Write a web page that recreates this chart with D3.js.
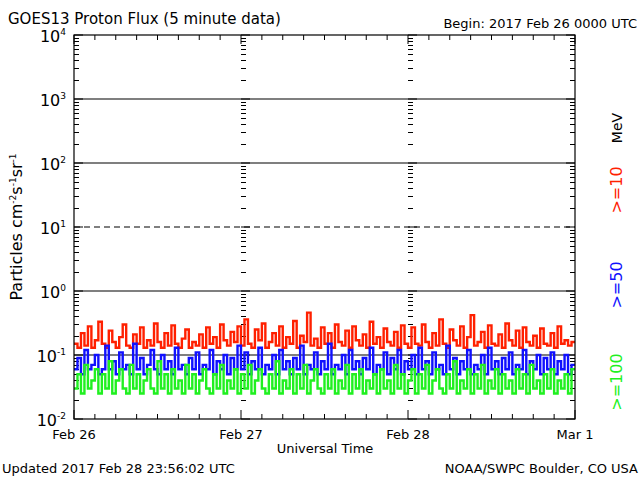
<!DOCTYPE html>
<html><head><meta charset="utf-8">
<script src="https://cdn.jsdelivr.net/npm/d3@7"></script>
<style>body{margin:0;background:#fff}text{font-family:"DejaVu Sans",sans-serif}</style>
</head><body>
<script>
// 30-minute samples, Feb 26 00:00 -> Mar 1 00:00
var p10 = [.15,.13,.22,.14,.28,.13,.17,.33,.15,.13,.24,.16,.13,.19,.30,.14,.13,.21,.15,.27,.13,.17,.14,.31,.16,.13,.22,.14,.29,.15,.13,.18,.25,.13,.16,.14,.21,.13,.27,.15,.19,.13,.30,.17,.14,.23,.16,.28,
  .14,.36,.15,.13,.25,.17,.31,.13,.16,.22,.14,.28,.13,.19,.15,.34,.13,.20,.16,.46,.14,.18,.13,.27,.15,.22,.13,.30,.16,.14,.24,.13,.28,.17,.14,.21,.13,.33,.15,.19,.13,.26,.16,.14,.23,.13,.29,.15,
  .13,.27,.15,.14,.30,.16,.13,.22,.14,.36,.15,.13,.25,.17,.14,.28,.13,.19,.42,.14,.16,.23,.13,.29,.15,.14,.21,.13,.31,.17,.14,.24,.13,.27,.16,.14,.20,.13,.26,.15,.14,.22,.13,.28,.15,.17,.14,.16];
var p50 = [.06,.09,.05,.12,.06,.07,.10,.05,.06,.14,.06,.08,.05,.11,.06,.07,.05,.15,.06,.09,.05,.07,.12,.06,.05,.10,.06,.08,.05,.13,.06,.07,.05,.09,.06,.11,.05,.07,.06,.12,.05,.08,.06,.10,.05,.09,.06,.14,
  .06,.11,.05,.08,.06,.13,.05,.07,.06,.10,.05,.12,.06,.08,.05,.09,.06,.14,.05,.07,.06,.11,.05,.08,.06,.15,.05,.07,.06,.10,.05,.12,.06,.08,.05,.09,.06,.13,.05,.07,.06,.11,.05,.09,.06,.12,.05,.08,
  .06,.10,.05,.13,.06,.08,.05,.11,.06,.07,.05,.14,.06,.09,.05,.08,.06,.12,.05,.07,.06,.10,.05,.13,.06,.08,.05,.09,.06,.11,.05,.07,.06,.12,.05,.08,.06,.10,.05,.09,.06,.11,.05,.08,.06,.10,.05,.07];
var p100 = [.03,.05,.025,.07,.03,.04,.06,.025,.05,.03,.08,.025,.04,.06,.03,.025,.07,.03,.05,.025,.04,.06,.03,.025,.08,.03,.05,.025,.06,.03,.04,.025,.07,.03,.05,.025,.04,.06,.03,.025,.05,.03,.07,.025,.04,.03,.06,.025,
  .05,.03,.07,.025,.04,.06,.03,.025,.05,.03,.08,.025,.04,.03,.06,.025,.05,.03,.07,.025,.04,.06,.03,.025,.05,.03,.06,.025,.04,.03,.07,.025,.05,.03,.06,.025,.04,.03,.05,.025,.06,.03,.04,.025,.07,.03,.05,.025,
  .04,.06,.025,.05,.03,.07,.025,.04,.06,.03,.025,.05,.03,.08,.025,.04,.03,.06,.025,.05,.03,.07,.025,.04,.03,.06,.025,.05,.03,.04,.025,.06,.03,.05,.025,.07,.03,.04,.025,.05,.03,.06,.025,.04,.03,.05,.025,.06];
var dayLabels = ["Feb 26", "Feb 27", "Feb 28", "Mar 1"];
var decades = [-2, -1, 0, 1, 2, 3, 4];

var W = 640, H = 480, L = 74, R = 575, T = 35, B = 419;
var svg = d3.select("body").append("svg").attr("width", W).attr("height", H);

var x = d3.scaleLinear().domain([0, 72]).range([L, R]);   // hours
var y = d3.scaleLog().domain([1e-2, 1e4]).range([B, T]);

// reference lines
svg.selectAll("line.ref").data([3, 2, 1, 0, -1]).enter().append("line")
  .attr("x1", L).attr("x2", R)
  .attr("y1", d => y(Math.pow(10, d))).attr("y2", d => y(Math.pow(10, d)))
  .attr("stroke", "#000").attr("stroke-width", 1.2)
  .attr("stroke-dasharray", d => d == 1 ? "6,4" : null);

// log ticks on left, right and at day boundaries
var minor = [];
decades.slice(0, -1).forEach(function(e) {
  for (var k = 2; k < 10; k++) minor.push(k * Math.pow(10, e));
});
var g = svg.append("g").attr("stroke", "#000");
[[L, 1], [x(24), 1], [x(48), 1], [R, -1]].forEach(function(c) {
  g.selectAll(null).data(minor).enter().append("line")
    .attr("x1", c[0]).attr("x2", c[0] + c[1] * 5)
    .attr("y1", d => Math.round(y(d)) + 0.5).attr("y2", d => Math.round(y(d)) + 0.5);
  g.selectAll(null).data(decades).enter().append("line")
    .attr("x1", c[0]).attr("x2", c[0] + c[1] * 9)
    .attr("y1", d => y(Math.pow(10, d))).attr("y2", d => y(Math.pow(10, d)));
});
// time ticks every 3 h
var hrs = d3.range(0, 73, 3);
g.selectAll(null).data(hrs).enter().append("line")
  .attr("x1", d => x(d)).attr("x2", d => x(d))
  .attr("y1", B).attr("y2", d => B - (d % 24 == 0 ? 9 : 5));
g.selectAll(null).data(hrs).enter().append("line")
  .attr("x1", d => x(d)).attr("x2", d => x(d))
  .attr("y1", T).attr("y2", d => T + (d % 24 == 0 ? 9 : 5));

// data
var line = d3.line().x((d, i) => x(i * 0.5)).y(d => y(d)).curve(d3.curveStepAfter);
[[p10, "#ff2000"], [p50, "#1010ff"], [p100, "#20f020"]].forEach(function(s) {
  svg.append("path").datum(s[0].concat([s[0][s[0].length - 1]]))
    .attr("d", line).attr("fill", "none").attr("stroke", s[1]).attr("stroke-width", 2.4);
});

// frame
svg.append("rect").attr("x", L).attr("y", T).attr("width", R - L).attr("height", B - T)
  .attr("fill", "none").attr("stroke", "#000").attr("stroke-width", 1.2);

// y labels
var yl = svg.selectAll("g.yl").data(decades).enter().append("text")
  .attr("x", L - 8).attr("y", d => y(Math.pow(10, d)) + 7)
  .attr("text-anchor", "end").attr("font-size", 16);
yl.append("tspan").text("10");
yl.append("tspan").attr("dy", -7).attr("font-size", 9).text(d => d);

svg.selectAll("text.xl").data(dayLabels).enter().append("text")
  .attr("x", (d, i) => x(i * 24)).attr("y", 439).attr("text-anchor", "middle")
  .attr("font-size", 13).text(d => d);

function txt(s, px, py, opt) {
  var t = svg.append("text").attr("x", px).attr("y", py).attr("font-size", opt.size || 13)
    .attr("text-anchor", opt.anchor || "start").attr("fill", opt.color || "#000").text(s);
  if (opt.rot) t.attr("transform", "rotate(-90," + px + "," + py + ")");
  return t;
}
txt("GOES13 Proton Flux (5 minute data)", 8, 24, {size: 15});
txt("Begin: 2017 Feb 26 0000 UTC", 637, 28, {anchor: "end"});
txt("Universal Time", 325, 453, {anchor: "middle"});
txt("Updated 2017 Feb 28 23:56:02 UTC", 2, 473, {});
txt("NOAA/SWPC Boulder, CO USA", 638, 473, {anchor: "end"});
txt("MeV", 622, 128, {anchor: "middle", rot: true, size: 14});
txt(">=10", 622, 190, {anchor: "middle", rot: true, color: "#ff2000", size: 16});
txt(">=50", 622, 285, {anchor: "middle", rot: true, color: "#1010ff", size: 16});
txt(">=100", 622, 382, {anchor: "middle", rot: true, color: "#20f020", size: 16});

var yt = svg.append("text").attr("transform", "translate(22,227) rotate(-90)")
  .attr("text-anchor", "middle").attr("font-size", 16);
yt.append("tspan").text("Particles cm");
yt.append("tspan").attr("dy", -6).attr("font-size", 9).text("-2");
yt.append("tspan").attr("dy", 6).text("s");
yt.append("tspan").attr("dy", -6).attr("font-size", 9).text("-1");
yt.append("tspan").attr("dy", 6).text("sr");
yt.append("tspan").attr("dy", -6).attr("font-size", 9).text("-1");
</script>
</body></html>
